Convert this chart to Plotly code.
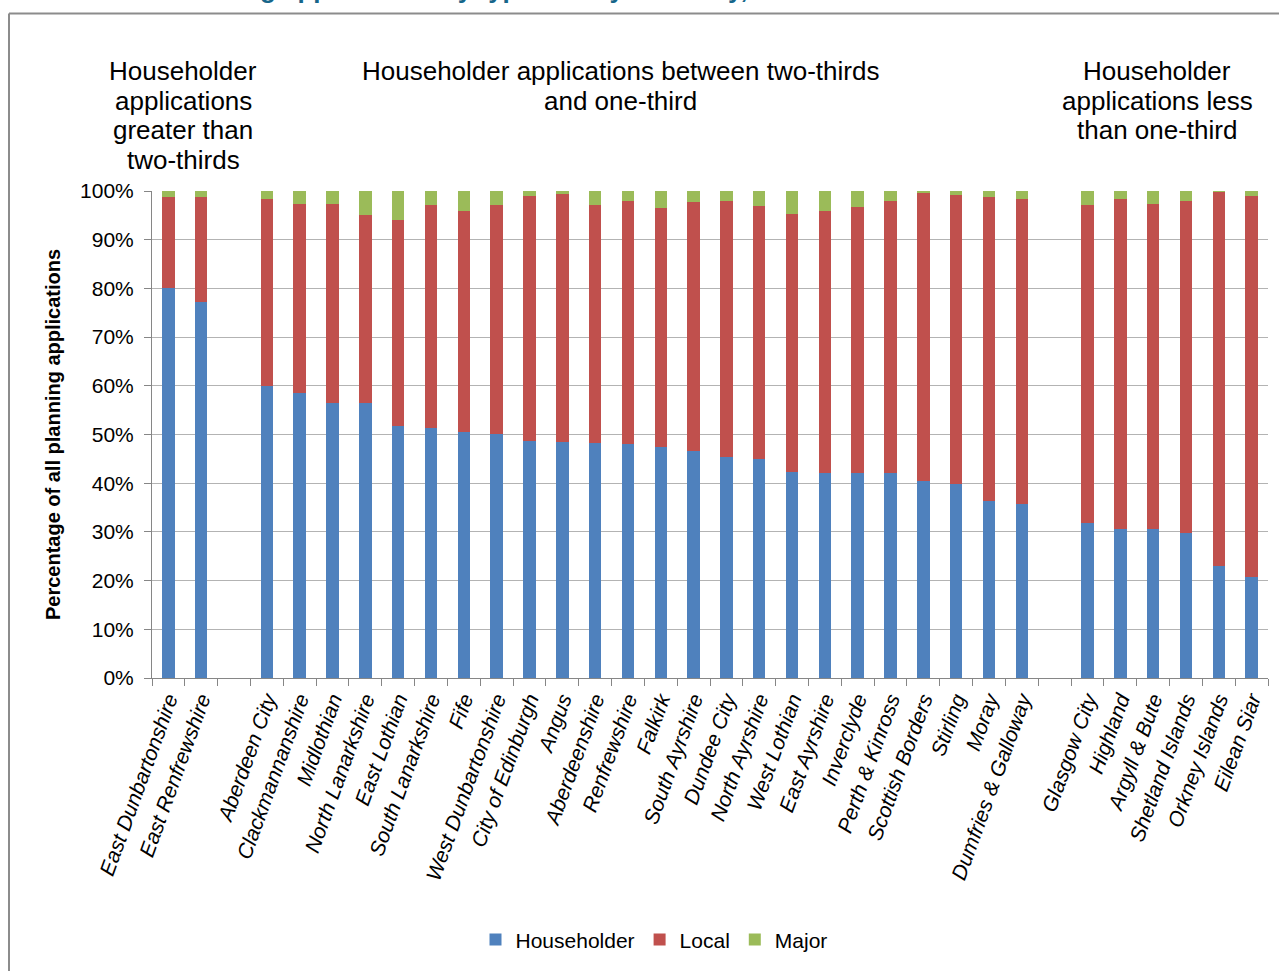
import plotly.graph_objects as go

# Planning applications by type, share of each authority's total (%)
group_high = ["East Dunbartonshire", "East Renfrewshire"]
group_mid = ["Aberdeen City", "Clackmannanshire", "Midlothian", "North Lanarkshire",
             "East Lothian", "South Lanarkshire", "Fife", "West Dunbartonshire",
             "City of Edinburgh", "Angus", "Aberdeenshire", "Renfrewshire", "Falkirk",
             "South Ayrshire", "Dundee City", "North Ayrshire", "West Lothian",
             "East Ayrshire", "Inverclyde", "Perth & Kinross", "Scottish Borders",
             "Stirling", "Moray", "Dumfries & Galloway"]
group_low = ["Glasgow City", "Highland", "Argyll & Bute", "Shetland Islands",
             "Orkney Islands", "Eilean Siar"]

householder_high = [80.0, 77.2]
local_high = [18.7, 21.5]
major_high = [1.3, 1.3]

householder_mid = [59.9, 58.5, 56.4, 56.4, 51.8, 51.4, 50.6, 50.2, 48.7, 48.5, 48.3, 48.1,
                   47.4, 46.6, 45.4, 44.9, 42.4, 42.1, 42.0, 42.0, 40.5, 39.8, 36.3, 35.8]
local_mid = [38.5, 38.9, 41.0, 38.6, 42.3, 45.8, 45.2, 47.0, 50.2, 50.9, 48.9, 49.9,
             49.2, 51.2, 52.6, 52.0, 52.8, 53.7, 54.7, 56.0, 59.0, 59.4, 62.4, 62.5]
major_mid = [1.6, 2.6, 2.6, 5.0, 5.9, 2.8, 4.2, 2.8, 1.1, 0.6, 2.8, 2.0,
             3.4, 2.2, 2.0, 3.1, 4.8, 4.2, 3.3, 2.0, 0.5, 0.8, 1.3, 1.7]

householder_low = [31.8, 30.6, 30.6, 29.7, 22.9, 20.8]
local_low = [65.3, 67.8, 66.8, 68.3, 76.9, 78.1]
major_low = [2.9, 1.6, 2.6, 2.0, 0.2, 1.1]

y_ticks = [0, 10, 20, 30, 40, 50, 60, 70, 80, 90, 100]

# empty categories separate the three groups on the axis
gap_a, gap_b = " ", "  "
categories = group_high + [gap_a] + group_mid + [gap_b] + group_low


def with_gaps(high, mid, low):
    return high + [None] + mid + [None] + low


series = [
    ("Householder", with_gaps(householder_high, householder_mid, householder_low), "#4F81BD"),
    ("Local", with_gaps(local_high, local_mid, local_low), "#C0504D"),
    ("Major", with_gaps(major_high, major_mid, major_low), "#9BBB59"),
]

fig = go.Figure()
for name, vals, colour in series:
    fig.add_trace(go.Bar(
        x=categories, y=vals, name=name, width=0.38,
        marker=dict(color=colour, line=dict(width=0)),
    ))

W, H = 1279, 971
L, R, T, B = 152, 11, 191, 289
pw, ph = W - L - R, H - T - B


def px_x(px):
    return (px - L) / pw


def px_y(py):
    return (H - B - py) / ph


font_main = "Liberation Sans, Arial, sans-serif"

fig.update_layout(
    width=W, height=H,
    margin=dict(l=L, r=R, t=T, b=B, pad=0),
    barmode="stack",
    plot_bgcolor="white", paper_bgcolor="white",
    font=dict(family=font_main, color="black"),
    showlegend=True,
    legend=dict(orientation="h", x=px_x(654), xanchor="center", y=px_y(946),
                yanchor="middle", font=dict(size=21, family=font_main),
                itemwidth=30, traceorder="normal"),
    xaxis=dict(
        type="category", categoryorder="array", categoryarray=categories,
        tickangle=-70, tickfont=dict(size=21, style="italic", family=font_main),
        showline=True, linecolor="#868686", linewidth=1,
        ticks="outside", tickson="boundaries", ticklen=7, tickcolor="#868686",
        showgrid=False, range=[-0.5, len(categories) - 0.5],
    ),
    yaxis=dict(
        range=[0, 100], tickvals=y_ticks, ticktext=[f"{v}%" for v in y_ticks],
        tickfont=dict(size=21), showgrid=True, gridcolor="#b3b3b3", gridwidth=1,
        showline=True, linecolor="#868686", linewidth=1,
        ticks="outside", ticklen=7, tickcolor="#868686", zeroline=False,
        ticklabelstandoff=6,
        title=dict(text="<b>Percentage of all planning applications</b>",
                   font=dict(size=20), standoff=14),
    ),
)

# group headings above the bars, one annotation per line
heading_font = dict(size=26, family=font_main, color="black")
headings = [
    (["Householder", "applications", "greater than", "two-thirds"], 183),
    (["Householder applications between two-thirds", "and one-third"], 620),
    (["Householder", "applications less", "than one-third"], 1157),
]
for lines, cx in headings:
    for i, line in enumerate(lines):
        fig.add_annotation(text=line, xref="paper", yref="paper", x=px_x(cx),
                           y=px_y(70 + 30 * i), xanchor="center", yanchor="middle",
                           showarrow=False, font=heading_font)

# chart title, sitting above the frame
fig.add_annotation(text="<b>Planning applications by type and by authority, 2013/14</b>",
                   xref="paper", yref="paper", x=px_x(164), y=px_y(-13),
                   xanchor="left", yanchor="middle", showarrow=False,
                   font=dict(size=26, family=font_main, color="#17668a"))

# outer frame of the chart
frame = dict(color="#8c8c8c", width=2)
fig.add_shape(type="line", xref="paper", yref="paper",
              x0=px_x(9), x1=px_x(1290), y0=px_y(12), y1=px_y(12), line=frame)
fig.add_shape(type="line", xref="paper", yref="paper",
              x0=px_x(9), x1=px_x(9), y0=px_y(12), y1=px_y(985), line=frame)

fig.write_html("out.html")
